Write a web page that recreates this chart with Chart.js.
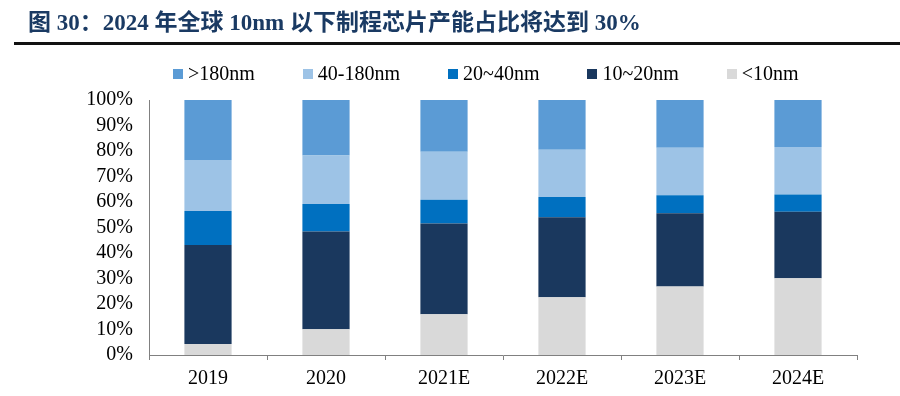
<!DOCTYPE html>
<html>
<head>
<meta charset="utf-8">
<script src="https://cdn.jsdelivr.net/npm/chart.js@4"></script>
<style>
  html, body { margin: 0; padding: 0; background: #fff; }
  body { width: 900px; height: 396px; position: relative; overflow: hidden; }
  #title {
    position: absolute; left: 28px; top: 8px;
    font-family: "Liberation Serif", "Noto Sans CJK SC", serif;
    font-weight: bold; font-size: 23px; line-height: 30px; color: #1a3a63;
    white-space: nowrap; z-index: 2;
  }
  #rule { position: absolute; left: 14px; right: 0; top: 42px; height: 3px; background: #111; z-index: 2; }
  #wrap { position: absolute; left: 0; top: 0; width: 900px; height: 396px; }
  #legend {
    position: absolute; left: 173px; top: 61px; height: 24px;
    display: flex; align-items: center; z-index: 2;
    font-family: "Liberation Serif", serif; font-size: 20px; color: #000;
  }
  #legend .item { display: flex; align-items: center; margin-right: 48px; white-space: nowrap; }
  #legend .item:last-child { margin-right: 0; }
  #legend .box { width: 10px; height: 10px; margin-right: 5px; margin-top: 2px; }
</style>
</head>
<body>
<div id="title">图 30：2024 年全球 10nm 以下制程芯片产能占比将达到 30%</div>
<div id="rule"></div>
<div id="legend"></div>
<div id="wrap"><canvas id="chipChart"></canvas></div>
<script>
const years = ["2019", "2020", "2021E", "2022E", "2023E", "2024E"];
const below10 = [4.3, 10.1, 16.0, 22.6, 26.9, 30.1];
const nm10to20 = [38.8, 38.3, 35.6, 31.4, 28.7, 26.1];
const nm20to40 = [13.4, 10.8, 9.3, 8.0, 7.0, 6.7];
const nm40to180 = [20.0, 19.0, 18.8, 18.5, 18.7, 18.7];
const above180 = [23.5, 21.8, 20.3, 19.5, 18.7, 18.4];
const yTicks = [0, 10, 20, 30, 40, 50, 60, 70, 80, 90, 100];

const serif = "'Liberation Serif', 'Times New Roman', serif";

function series(label, data, color) {
  return {
    label: label,
    data: data,
    backgroundColor: color,
    borderWidth: 0,
    barPercentage: 0.4,
    categoryPercentage: 1.0,
  };
}

const chart = new Chart(document.getElementById("chipChart"), {
  type: "bar",
  data: {
    labels: years,
    datasets: [
      series("<10nm", below10, "#d9d9d9"),
      series("10~20nm", nm10to20, "#1a385e"),
      series("20~40nm", nm20to40, "#0070c0"),
      series("40-180nm", nm40to180, "#9dc3e6"),
      series(">180nm", above180, "#5b9bd5"),
    ],
  },
  options: {
    responsive: true,
    maintainAspectRatio: false,
    animation: false,
    layout: { padding: { left: 0, right: 43, top: 100, bottom: 4 } },
    plugins: {
      tooltip: { enabled: false },
      legend: { display: false },
    },
    scales: {
      x: {
        stacked: true,
        afterFit: (scale) => { scale.height = 37; },
        border: { color: "#808080", width: 1 },
        grid: {
          offset: true,
          drawOnChartArea: false,
          drawTicks: true,
          tickLength: 5,
          color: "#808080",
        },
        ticks: { color: "#000", padding: 7, font: { family: serif, size: 20 } },
      },
      y: {
        stacked: true,
        min: 0,
        max: 100,
        afterFit: (scale) => { scale.width = 149; },
        afterBuildTicks: (scale) => { scale.ticks = yTicks.map((v) => ({ value: v })); },
        border: { color: "#808080", width: 1 },
        grid: { display: false, drawTicks: false },
        ticks: {
          autoSkip: false,
          color: "#000",
          padding: 16,
          font: { family: serif, size: 20 },
          callback: (v) => v + "%",
        },
      },
    },
  },
});

// legend in the reference's order: top segment first
const legendEl = document.getElementById("legend");
chart.data.datasets.slice().reverse().forEach((ds) => {
  const item = document.createElement("span");
  item.className = "item";
  const box = document.createElement("span");
  box.className = "box";
  box.style.background = ds.backgroundColor;
  item.appendChild(box);
  item.appendChild(document.createTextNode(ds.label));
  legendEl.appendChild(item);
});
</script>
</body>
</html>
